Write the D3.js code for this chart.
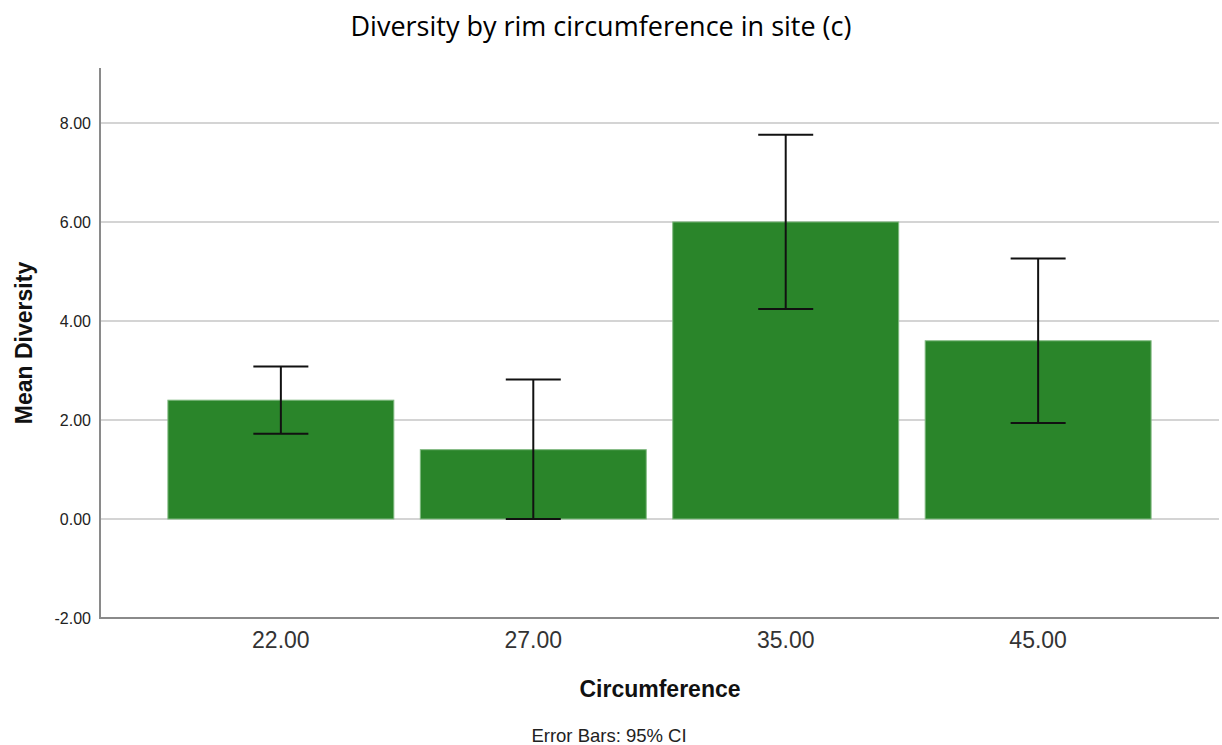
<!DOCTYPE html>
<html><head><meta charset="utf-8">
<script src="https://cdn.jsdelivr.net/npm/d3@7"></script>
<style>body{margin:0;background:#fff}</style>
</head><body>
<svg id="chart" width="1222" height="745"></svg>
<script>
const categories = ["22.00", "27.00", "35.00", "45.00"];
const means = [2.40, 1.40, 6.00, 3.60];
const ciLow = [1.72, 0.00, 4.24, 1.94];
const ciHigh = [3.08, 2.82, 7.76, 5.26];
const yTicks = [-2, 0, 2, 4, 6, 8];

const svg = d3.select("#chart");
const pLeft = 100, pRight = 1219, pTop = 68, pBottom = 618;
const font = "Liberation Sans, Arial, sans-serif";

const x = d3.scaleBand().domain(categories).range([pLeft, pRight])
  .paddingInner(0.105).paddingOuter(0.269);
const y = d3.scaleLinear().domain([-2, 9.11]).range([pBottom, pTop]);

// grid
svg.append("g").selectAll("line").data(yTicks.filter(d => d > -2)).join("line")
  .attr("x1", pLeft).attr("x2", pRight)
  .attr("y1", d => y(d)).attr("y2", d => y(d))
  .attr("stroke", "#c6c6c6").attr("stroke-width", 1.5);

// bars
svg.append("g").selectAll("rect").data(categories).join("rect")
  .attr("x", d => x(d)).attr("width", x.bandwidth())
  .attr("y", (d, i) => y(Math.max(0, means[i])))
  .attr("height", (d, i) => Math.abs(y(means[i]) - y(0)))
  .attr("fill", "#2a852a").attr("stroke", "#7fb87f").attr("stroke-width", 1);

// error bars
const capW = 55;
const eb = svg.append("g").attr("stroke", "#111").attr("stroke-width", 2);
categories.forEach((c, i) => {
  const cx = x(c) + x.bandwidth() / 2;
  eb.append("line").attr("x1", cx).attr("x2", cx).attr("y1", y(ciHigh[i])).attr("y2", y(ciLow[i]));
  eb.append("line").attr("x1", cx - capW / 2).attr("x2", cx + capW / 2).attr("y1", y(ciHigh[i])).attr("y2", y(ciHigh[i]));
  eb.append("line").attr("x1", cx - capW / 2).attr("x2", cx + capW / 2).attr("y1", y(ciLow[i])).attr("y2", y(ciLow[i]));
});

// axes
const yAxis = d3.axisLeft(y).tickValues(yTicks).tickFormat(d => d.toFixed(2)).tickSize(0).tickPadding(9);
const gy = svg.append("g").attr("transform", `translate(${pLeft},0)`).call(yAxis);
gy.select(".domain").remove();
gy.attr("font-size", null).attr("font-family", null);
gy.selectAll("text").style("font-family", font).style("font-size", "16px").attr("fill", "#222");

const xAxis = d3.axisBottom(x).tickSize(0).tickPadding(12);
const gx = svg.append("g").attr("transform", `translate(0,${pBottom})`).call(xAxis);
gx.select(".domain").remove();
gx.attr("font-size", null).attr("font-family", null);
gx.selectAll("text").style("font-family", font).style("font-size", "23px").attr("fill", "#333")
  .attr("dy", null).attr("y", 30);

svg.append("line").attr("x1", pLeft).attr("x2", pLeft).attr("y1", pTop).attr("y2", pBottom)
  .attr("stroke", "#8a8a8a").attr("stroke-width", 2);
svg.append("line").attr("x1", pLeft - 1).attr("x2", pRight).attr("y1", pBottom).attr("y2", pBottom)
  .attr("stroke", "#8a8a8a").attr("stroke-width", 2);

// titles
svg.append("text").attr("x", 601).attr("y", 36).attr("text-anchor", "middle")
  .attr("font-family", "Open Sans, sans-serif").attr("font-size", 27).attr("fill", "#000")
  .text("Diversity by rim circumference in site (c)");
svg.append("text").attr("transform", `translate(32,343) rotate(-90)`).attr("text-anchor", "middle")
  .attr("font-family", font).attr("font-size", 23).attr("font-weight", "bold").attr("fill", "#111")
  .text("Mean Diversity");
svg.append("text").attr("x", 660).attr("y", 697).attr("text-anchor", "middle")
  .attr("font-family", font).attr("font-size", 23).attr("font-weight", "bold").attr("fill", "#111")
  .text("Circumference");
svg.append("text").attr("x", 609).attr("y", 742).attr("text-anchor", "middle")
  .attr("font-family", font).attr("font-size", 18.5).attr("fill", "#222")
  .text("Error Bars: 95% CI");
</script>
</body></html>
